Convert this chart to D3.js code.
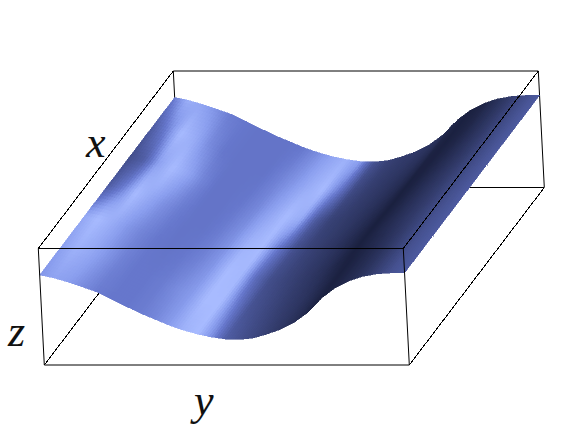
<!DOCTYPE html>
<html>
<head>
<meta charset="utf-8">
<style>
  html, body { margin: 0; padding: 0; background: #fff; }
  svg { display: block; }
  text { font-family: "Liberation Serif", serif; font-style: italic; fill: #111; }
</style>
</head>
<body>
<script src="https://cdn.jsdelivr.net/npm/d3@7"></script>
<script>
let w = 582;
let h = 436;

// y positions of the samples along the wave
let yValues = [];
for (let i = 0; i < 27; i++) yValues.push(i / 26);

// height of the surface at each y
let zValues = [0.773,0.747,0.712,0.670,0.627,0.567,0.506,0.446,0.395,0.343,0.300,0.266,0.240,0.223,0.219,0.232,0.266,0.309,0.369,0.455,0.575,0.661,0.721,0.760,0.782,0.790,0.790];

// x position of each row of shade readings, front to back
let xValues = [0, 1/6, 1/3, 1/2, 2/3, 5/6, 1];

// shade, 0 darkest, 1 brightest
let shade0 = [.82,.88,.85,.78,.72,.7,.7,.72,.76,.84,.95,1,.8,.52,.44,.38,.32,.26,.2,.13,.1,.12,.17,.24,.34,.44,.5];
let shade1 = [.86,.95,.9,.82,.74,.7,.7,.72,.78,.84,1,1,.72,.46,.4,.34,.29,.24,.17,.11,.09,.12,.17,.24,.34,.44,.5];
let shade2 = [.9,1,.92,.82,.75,.7,.68,.7,.74,.82,1,.98,.62,.42,.36,.31,.26,.2,.13,.09,.1,.14,.19,.26,.34,.44,.5];
let shade3 = [.5,.72,1,.9,.8,.72,.68,.68,.72,.8,.95,1,.7,.44,.35,.3,.25,.19,.13,.09,.09,.12,.18,.25,.33,.43,.5];
let shade4 = [.42,.52,.86,1,.9,.76,.68,.68,.7,.76,.88,1,.92,.5,.34,.3,.26,.21,.16,.11,.09,.1,.15,.22,.31,.42,.5];
let shade5 = [.5,.72,1,.92,.78,.7,.68,.68,.68,.74,.82,.92,1,.72,.4,.32,.28,.24,.2,.15,.11,.09,.12,.2,.3,.42,.5];
let shade6 = [.72,.94,.88,.8,.72,.7,.68,.68,.68,.7,.78,.88,.95,.85,.45,.34,.3,.28,.24,.2,.14,.09,.12,.2,.3,.42,.5];
let shadeRows = [shade0, shade1, shade2, shade3, shade4, shade5, shade6];

let axisLabels = ["x", "y", "z"];

// edges of the box, as corners [x, y, z]
let backEdges = [
  [[1,0,1],[1,1,1]], [[1,0,0],[1,1,0]], [[1,0,0],[1,0,1]],
  [[1,1,0],[1,1,1]], [[0,0,0],[1,0,0]]
];
let frontEdges = [
  [[0,0,1],[0,1,1]], [[0,0,0],[0,1,0]], [[0,0,0],[0,0,1]], [[0,1,0],[0,1,1]],
  [[0,0,1],[1,0,1]], [[0,1,1],[1,1,1]], [[0,1,0],[1,1,0]]
];

// oblique projection, one scale per axis and screen direction
let sx = { x: d3.scaleLinear([0, 1], [0, 135]), y: d3.scaleLinear([0, 1], [0, 365]), z: d3.scaleLinear([0, 1], [0, -6]) };
let sy = { x: d3.scaleLinear([0, 1], [0, -177.5]), z: d3.scaleLinear([0, 1], [0, -116.5]) };
let originX = 44.3;
let originY = 365;

function px(x, y, z) { return originX + sx.x(x) + sx.y(y) + sx.z(z); }
function py(x, z) { return originY + sy.x(x) + sy.z(z); }

let heightAt = d3.scaleLinear().domain(yValues).range(zValues);
let rowScales = shadeRows.map((row) => d3.scaleLinear().domain(yValues).range(row));
let color = d3.scaleLinear()
  .domain([0.09, 0.3, 0.5, 0.7, 0.85, 1])
  .range(["#1b2140", "#333c6c", "#4d5a9f", "#6677cc", "#8a9eee", "#a8bbff"]);

function shadeAt(x, y) {
  let i = Math.min(d3.bisectRight(xValues, x) - 1, xValues.length - 2);
  let t = (x - xValues[i]) / (xValues[i + 1] - xValues[i]);
  return rowScales[i](y) * (1 - t) + rowScales[i + 1](y) * t;
}

let svg = d3.select("body").append("svg").attr("width", w).attr("height", h);

function drawEdges(group, edges) {
  group.selectAll("line")
    .data(edges)
    .enter()
    .append("line")
    .attr("x1", (d) => px(d[0][0], d[0][1], d[0][2]))
    .attr("y1", (d) => py(d[0][0], d[0][2]))
    .attr("x2", (d) => px(d[1][0], d[1][1], d[1][2]))
    .attr("y2", (d) => py(d[1][0], d[1][2]))
    .attr("stroke", "#000")
    .attr("stroke-width", 1)
    // the receding edges are jagged in the original
    .attr("shape-rendering", (d) => (d[0][0] != d[1][0] ? "crispEdges" : "auto"));
}

drawEdges(svg.append("g").attr("id", "back"), backEdges);

// surface mesh, painted back to front
let nx = 60;
let ny = 156;
let quads = [];
for (let i = nx - 1; i >= 0; i--) {
  for (let j = 0; j < ny; j++) {
    quads.push({ x0: i / nx, x1: (i + 1) / nx, y0: j / ny, y1: (j + 1) / ny });
  }
}

svg.append("g").attr("id", "surface")
  .selectAll("polygon")
  .data(quads)
  .enter()
  .append("polygon")
  .attr("points", (d) => {
    let z0 = heightAt(d.y0);
    let z1 = heightAt(d.y1);
    return [[d.x0, d.y0, z0], [d.x0, d.y1, z1], [d.x1, d.y1, z1], [d.x1, d.y0, z0]]
      .map((p) => px(p[0], p[1], p[2]) + "," + py(p[0], p[2]))
      .join(" ");
  })
  .attr("fill", (d) => color(shadeAt((d.x0 + d.x1) / 2, (d.y0 + d.y1) / 2)))
  .attr("stroke", (d) => color(shadeAt((d.x0 + d.x1) / 2, (d.y0 + d.y1) / 2)))
  .attr("stroke-width", 0.6)
  .attr("shape-rendering", "crispEdges");

drawEdges(svg.append("g").attr("id", "front"), frontEdges);

let labelX = [86, 194, 8];
let labelY = [157, 415, 346];
svg.append("g").attr("id", "labels")
  .selectAll("text")
  .data(axisLabels)
  .enter()
  .append("text")
  .attr("x", (d, i) => labelX[i])
  .attr("y", (d, i) => labelY[i])
  .attr("font-size", 44)
  .text((d) => d);
</script>
</body>
</html>
